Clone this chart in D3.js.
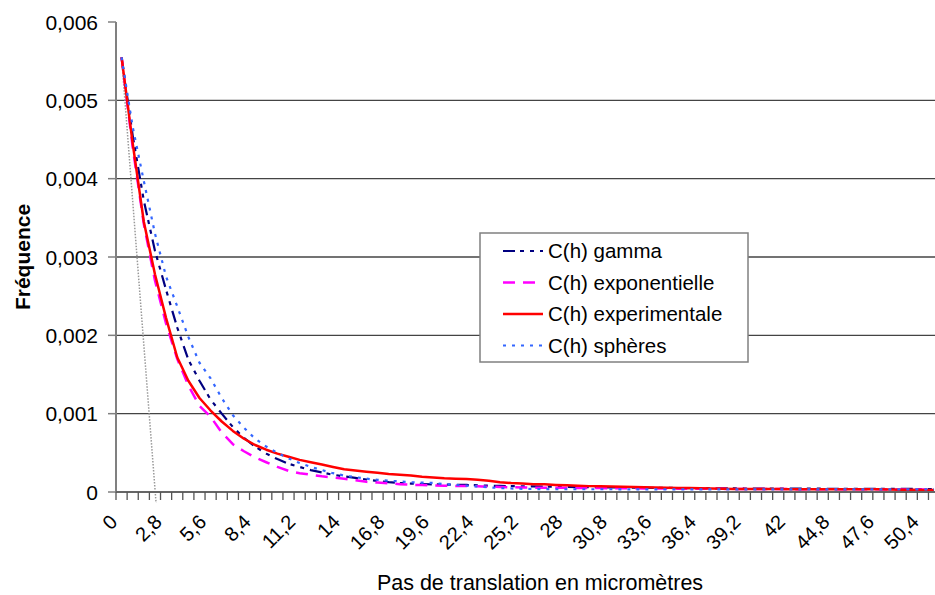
<!DOCTYPE html>
<html>
<head>
<meta charset="utf-8">
<script src="https://cdn.jsdelivr.net/npm/d3@7.9.0/dist/d3.min.js"></script>
<style>
  body { margin: 0; background: #fff; }
  svg { display: block; font-family: "Liberation Sans", Arial, sans-serif; overflow: hidden; }
</style>
</head>
<body>
<svg id="chart" width="935" height="595"></svg>
<script>
// values are in thousandths (x 10^-3)
const step = 0.7;
const nCats = 74;
const categories = d3.range(nCats).map((i) => +(i * step).toFixed(1));

const tickLabels = ["0", "2,8", "5,6", "8,4", "11,2", "14", "16,8", "19,6", "22,4", "25,2",
  "28", "30,8", "33,6", "36,4", "39,2", "42", "44,8", "47,6", "50,4"];

const yTicks = [0, 1, 2, 3, 4, 5, 6];
const yTickLabels = ["0", "0,001", "0,002", "0,003", "0,004", "0,005", "0,006"];

const gamma = [5.55, 4.55, 3.72, 3.08, 2.58, 2.10, 1.69, 1.42, 1.18, 1.00,
  0.83, 0.69, 0.58, 0.49, 0.42, 0.36, 0.32, 0.28, 0.25, 0.22,
  0.20, 0.18, 0.16, 0.14, 0.125, 0.115, 0.108, 0.102, 0.098, 0.095,
  0.092, 0.09, 0.085, 0.08, 0.077, 0.075, 0.073, 0.071, 0.069, 0.067,
  0.065, 0.063, 0.061, 0.06, 0.058, 0.057, 0.055, 0.054, 0.053, 0.052,
  0.051, 0.05, 0.049, 0.048, 0.047, 0.046, 0.045, 0.045, 0.044, 0.044,
  0.043, 0.043, 0.042, 0.042, 0.041, 0.041, 0.041, 0.040, 0.040, 0.040,
  0.039, 0.039, 0.038, 0.038];

const exponentielle = [5.55, 4.40, 3.42, 2.70, 2.15, 1.70, 1.36, 1.10, 0.96, 0.76,
  0.61, 0.52, 0.44, 0.38, 0.32, 0.27, 0.24, 0.22, 0.20, 0.185,
  0.17, 0.15, 0.13, 0.12, 0.11, 0.10, 0.092, 0.088, 0.084, 0.08,
  0.078, 0.076, 0.072, 0.068, 0.064, 0.06, 0.058, 0.056, 0.055, 0.054,
  0.053, 0.052, 0.051, 0.05, 0.049, 0.048, 0.047, 0.046, 0.045, 0.044,
  0.043, 0.042, 0.041, 0.040, 0.040, 0.039, 0.039, 0.038, 0.038, 0.037,
  0.037, 0.036, 0.036, 0.035, 0.035, 0.035, 0.034, 0.034, 0.034, 0.033,
  0.033, 0.033, 0.032, 0.032];

const experimentale = [5.55, 4.45, 3.45, 2.78, 2.22, 1.72, 1.42, 1.20, 1.04, 0.90,
  0.78, 0.68, 0.60, 0.54, 0.49, 0.45, 0.41, 0.38, 0.35, 0.32,
  0.29, 0.275, 0.26, 0.245, 0.23, 0.22, 0.21, 0.195, 0.185, 0.175,
  0.17, 0.165, 0.155, 0.145, 0.125, 0.115, 0.11, 0.10, 0.098, 0.09,
  0.085, 0.08, 0.075, 0.072, 0.07, 0.066, 0.063, 0.06, 0.057, 0.055,
  0.052, 0.05, 0.047, 0.044, 0.04, 0.038, 0.038, 0.037, 0.037, 0.037,
  0.036, 0.036, 0.036, 0.036, 0.036, 0.035, 0.035, 0.035, 0.034, 0.032,
  0.03, 0.028, 0.026, 0.026];

const spheres = [5.55, 4.66, 3.97, 3.30, 2.75, 2.37, 1.98, 1.65, 1.45, 1.20,
  0.98, 0.82, 0.68, 0.58, 0.50, 0.43, 0.37, 0.32, 0.28, 0.24,
  0.21, 0.19, 0.17, 0.155, 0.145, 0.135, 0.125, 0.12, 0.115, 0.10,
  0.09, 0.08, 0.07, 0.06, 0.05, 0.045, 0.04, 0.038, 0.036, 0.035,
  0.035, 0.035, 0.035, 0.035, 0.035, 0.034, 0.034, 0.034, 0.034, 0.034,
  0.034, 0.034, 0.034, 0.034, 0.034, 0.034, 0.034, 0.034, 0.034, 0.034,
  0.034, 0.034, 0.034, 0.034, 0.034, 0.034, 0.034, 0.034, 0.034, 0.034,
  0.034, 0.034, 0.034, 0.034];

// tangent at the origin (category index, value)
const tangentIdx = [0, 3.1];
const tangentVal = [5.55, -0.14];

const series = [
  { name: "C(h) gamma", values: gamma, color: "#000080", dash: "12,5,4,6,4,6", width: 2.2 },
  { name: "C(h) exponentielle", values: exponentielle, color: "#ff00ff", dash: "12,8", width: 2.5 },
  { name: "C(h) experimentale", values: experimentale, color: "#ff0000", dash: null, width: 2.5 },
  { name: "C(h) sphères", values: spheres, color: "#3366ff", dash: "3,6", width: 2.2 }
];

const svg = d3.select("#chart");
const plotLeft = 116, plotRight = 939.6, plotTop = 22, plotBottom = 492;

const xEdge = d3.scaleLinear().domain([0, nCats]).range([plotLeft, plotRight]);
const y = d3.scaleLinear().domain([0, 6]).range([plotBottom, plotTop]);
const cx = (i) => xEdge(i + 0.5);

// gridlines
svg.append("g")
  .selectAll("line")
  .data(yTicks.filter((d) => d > 0 && d < 6))
  .join("line")
  .attr("x1", plotLeft).attr("x2", 935)
  .attr("y1", (d) => y(d)).attr("y2", (d) => y(d))
  .attr("stroke", "#444").attr("stroke-width", 1.3);

// tangent line
svg.append("path")
  .datum(tangentIdx.map((d, i) => [cx(d), y(tangentVal[i])]))
  .attr("d", d3.line())
  .attr("fill", "none")
  .attr("stroke", "#999")
  .attr("stroke-width", 1.5)
  .attr("stroke-dasharray", "1.5,1.5");

// series
const line = d3.line().x((d, i) => cx(i)).y((d) => y(d));
series.forEach((s) => {
  svg.append("path")
    .datum(s.values)
    .attr("d", line)
    .attr("fill", "none")
    .attr("stroke", s.color)
    .attr("stroke-width", s.width)
    .attr("stroke-dasharray", s.dash)
    .attr("stroke-linejoin", "round");
});

// y axis
svg.append("line")
  .attr("x1", plotLeft).attr("x2", plotLeft).attr("y1", plotTop).attr("y2", plotBottom)
  .attr("stroke", "#808080").attr("stroke-width", 2);
svg.append("g")
  .selectAll("line")
  .data(yTicks)
  .join("line")
  .attr("x1", 108).attr("x2", plotLeft)
  .attr("y1", (d) => y(d)).attr("y2", (d) => y(d))
  .attr("stroke", "#808080").attr("stroke-width", 1.5);
svg.append("g")
  .selectAll("text")
  .data(yTicks)
  .join("text")
  .attr("x", 98)
  .attr("y", (d) => y(d))
  .attr("dy", "0.36em")
  .attr("text-anchor", "end")
  .attr("font-size", 21)
  .attr("fill", "#000")
  .text((d, i) => yTickLabels[i]);

// x axis
svg.append("line")
  .attr("x1", plotLeft).attr("x2", 935).attr("y1", plotBottom).attr("y2", plotBottom)
  .attr("stroke", "#666").attr("stroke-width", 2);
svg.append("g")
  .selectAll("line")
  .data(d3.range(nCats + 1))
  .join("line")
  .attr("x1", (d) => xEdge(d)).attr("x2", (d) => xEdge(d))
  .attr("y1", plotBottom).attr("y2", plotBottom + 8)
  .attr("stroke", "#555").attr("stroke-width", 1.3);
svg.append("g")
  .selectAll("text")
  .data(tickLabels)
  .join("text")
  .attr("transform", (d, i) => `translate(${cx(i * 4) - 8},${plotBottom + 26}) rotate(-45)`)
  .attr("text-anchor", "end")
  .attr("dy", "0.36em")
  .attr("font-size", 20)
  .attr("fill", "#000")
  .text((d) => d);

// axis titles
svg.append("text")
  .attr("x", 540).attr("y", 590)
  .attr("text-anchor", "middle")
  .attr("font-size", 21.5)
  .text("Pas de translation en micromètres");
svg.append("text")
  .attr("transform", "translate(30,257) rotate(-90)")
  .attr("text-anchor", "middle")
  .attr("font-size", 21)
  .attr("font-weight", "bold")
  .text("Fréquence");

// legend
const legend = svg.append("g");
legend.append("rect")
  .attr("x", 480).attr("y", 233).attr("width", 268).attr("height", 129)
  .attr("fill", "#fff").attr("stroke", "#808080").attr("stroke-width", 1.5);
series.forEach((s, i) => {
  const by = 258 + i * 31.5;
  legend.append("line")
    .attr("x1", 503).attr("x2", 543).attr("y1", by - 7).attr("y2", by - 7)
    .attr("stroke", s.color).attr("stroke-width", s.width)
    .attr("stroke-dasharray", s.dash);
  legend.append("text")
    .attr("x", 548).attr("y", by)
    .attr("font-size", 20.5)
    .text(s.name);
});
</script>
</body>
</html>
